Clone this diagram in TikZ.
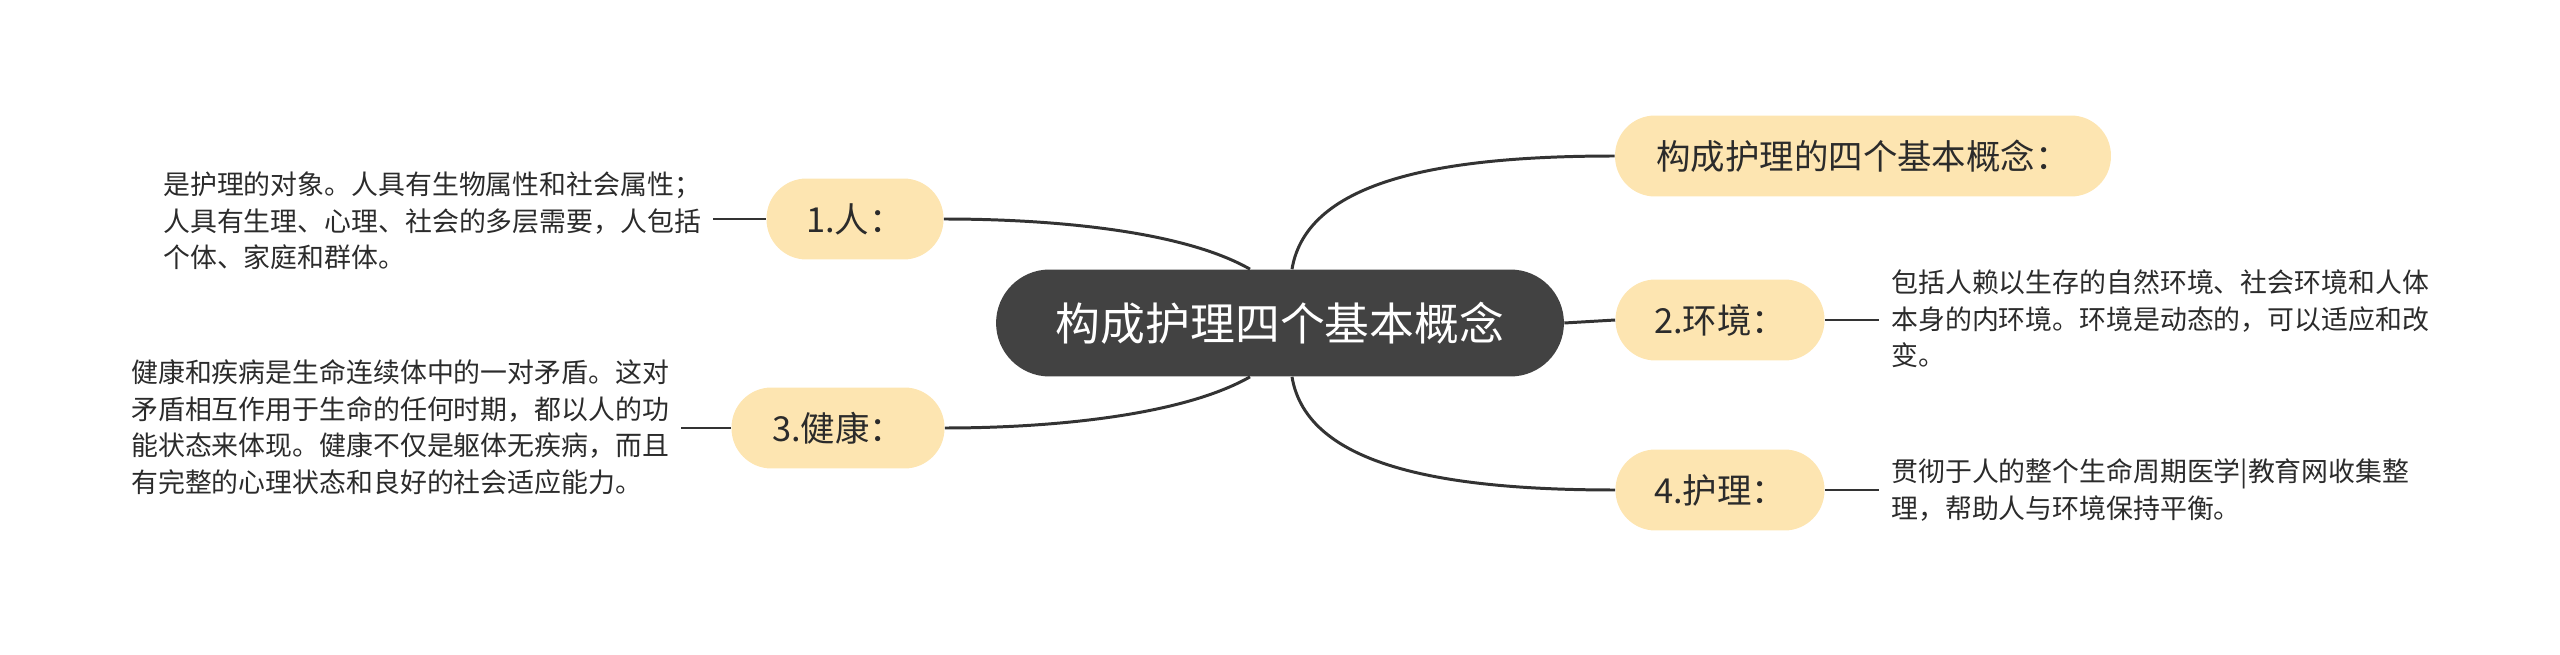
\documentclass[tikz,border=0pt]{standalone}
\usepackage{fontspec}
\newfontfamily\cjk{Noto Sans CJK SC}
\definecolor{rootgray}{HTML}{424242}
\definecolor{topicyellow}{HTML}{FDE5B1}
\definecolor{inkgray}{HTML}{2B2B2B}
\definecolor{linegray}{HTML}{333333}

\begin{document}
\begin{tikzpicture}[x=0.02cm, y=-0.02cm, font=\cjk]
    \tikzstyle{root_style} = [fill=rootgray, text=white, rounded corners=1.07cm, minimum width=11.36cm, minimum height=2.14cm, inner sep=0pt, font=\cjk\fontsize{25.5}{30}\selectfont]
    \tikzstyle{topic_style} = [fill=topicyellow, text=inkgray, rounded corners=0.8cm, minimum height=1.62cm, inner sep=0pt, font=\cjk\fontsize{19.6}{24}\selectfont]
    \tikzstyle{note_style} = [text=inkgray, align=left, inner xsep=0.24cm, inner ysep=0pt, font=\cjk\fontsize{15.3}{20.8}\selectfont]
    \tikzstyle{branch_line} = [linegray, line width=1.7pt]

    \useasboundingbox (0,0) rectangle (2560,655);

    \node[root_style] (nRoot) at (1280,323) {构成护理四个基本概念};

    \node[topic_style, minimum width=9.92cm] (nTitle) at (1863,156) {构成护理的四个基本概念：};
    \node[topic_style, minimum width=4.18cm] (nEnv) at (1720,320) {2.环境：};
    \node[topic_style, minimum width=4.18cm] (nNurse) at (1720,490) {4.护理：};
    \node[topic_style, minimum width=3.54cm] (nPerson) at (855,219) {1.人：};
    \node[topic_style, minimum width=4.26cm] (nHealth) at (838,428) {3.健康：};

    \node[note_style, anchor=west] (tPerson) at (151,221) {是护理的对象。人具有生物属性和社会属性；\\人具有生理、心理、社会的多层需要，人包括\\个体、家庭和群体。};
    \node[note_style, anchor=west] (tHealth) at (119,427) {健康和疾病是生命连续体中的一对矛盾。这对\\矛盾相互作用于生命的任何时期，都以人的功\\能状态来体现。健康不仅是躯体无疾病，而且\\有完整的心理状态和良好的社会适应能力。};
    \node[note_style, anchor=west] (tEnv) at (1879,319) {包括人赖以生存的自然环境、社会环境和人体\\本身的内环境。环境是动态的，可以适应和改\\变。};
    \node[note_style, anchor=west] (tNurse) at (1879,490) {贯彻于人的整个生命周期医学|教育网收集整\\理，帮助人与环境保持平衡。};

    % branches from the root
    \draw[branch_line] ([xshift=-0.6cm]nRoot.north) .. controls +(-70,-40) and +(100,0) .. (nPerson.east);
    \draw[branch_line] ([xshift=-0.6cm]nRoot.south) .. controls +(-70,40) and +(100,0) .. (nHealth.east);
    \draw[branch_line] ([xshift=0.24cm]nRoot.north) .. controls +(15,-90) and +(-170,0) .. (nTitle.west);
    \draw[branch_line] ([xshift=0.24cm]nRoot.south) .. controls +(15,90) and +(-170,0) .. (nNurse.west);
    \draw[branch_line] (nRoot.east) -- (nEnv.west);

    % notes
    \draw[branch_line] (nPerson.west) -- (tPerson.east |- nPerson.west);
    \draw[branch_line] (nHealth.west) -- (tHealth.east |- nHealth.west);
    \draw[branch_line] (nEnv.east) -- (tEnv.west |- nEnv.east);
    \draw[branch_line] (nNurse.east) -- (tNurse.west |- nNurse.east);
\end{tikzpicture}
\end{document}
